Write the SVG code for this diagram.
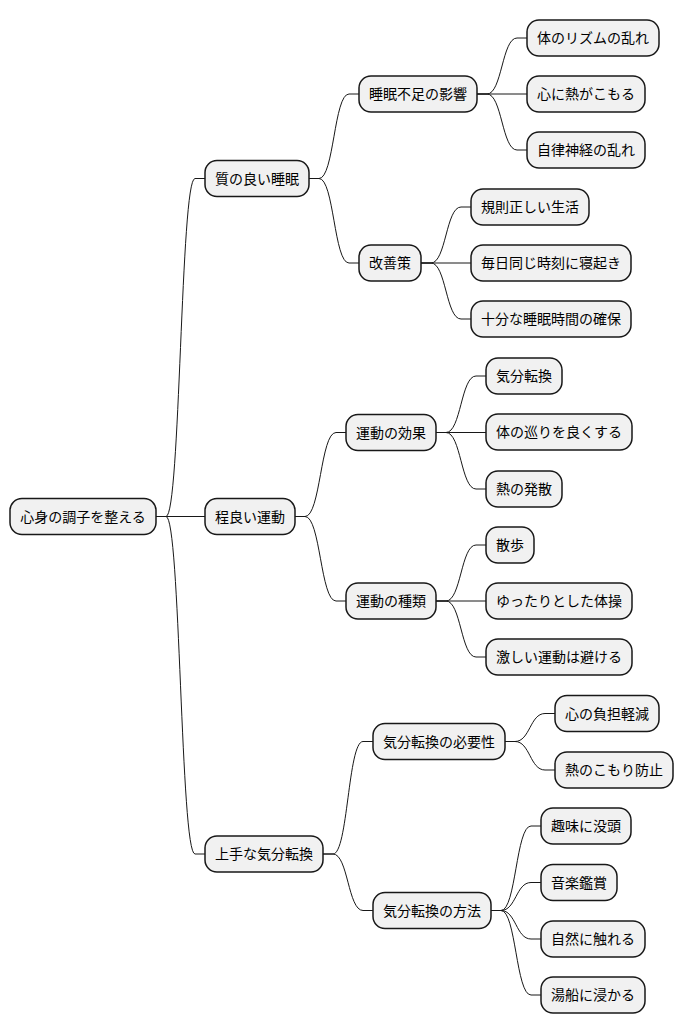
<svg xmlns="http://www.w3.org/2000/svg" width="684" height="1034" viewBox="0 0 684 1034">
<style>
.n rect{fill:#F1F1F1;stroke:#181818;stroke-width:1.5}
.n text{font-family:"Noto Sans CJK JP","Noto Sans",sans-serif;font-size:14px;fill:#000;text-anchor:middle}
.c path{fill:none;stroke:#181818;stroke-width:1}
</style>
<rect width="684" height="1034" fill="#FFFFFF"/>
<g class="c" id="connectors">
<path d="M156,516.5 H166 C180.5,516.5 180.5,178.5 195,178.5 H205"/>
<path d="M156,516.5 H205"/>
<path d="M156,516.5 H166 C180.5,516.5 180.5,854 195,854 H205"/>
<path d="M309,178.5 H319 C334,178.5 334,94 349,94 H359"/>
<path d="M309,178.5 H319 C334,178.5 334,263 349,263 H359"/>
<path d="M295,516.5 H305 C320.5,516.5 320.5,432.5 336,432.5 H346"/>
<path d="M295,516.5 H305 C320.5,516.5 320.5,601 336,601 H346"/>
<path d="M323,854 H333 C348,854 348,741.5 363,741.5 H373"/>
<path d="M323,854 H333 C348,854 348,910.5 363,910.5 H373"/>
<path d="M477,94 H487 C502,94 502,38 517,38 H527"/>
<path d="M477,94 H527"/>
<path d="M477,94 H487 C502,94 502,150 517,150 H527"/>
<path d="M421,263 H431 C446,263 446,207 461,207 H471"/>
<path d="M421,263 H471"/>
<path d="M421,263 H431 C446,263 446,319 461,319 H471"/>
<path d="M436,432.5 H446 C461,432.5 461,376 476,376 H486"/>
<path d="M436,432.5 H486"/>
<path d="M436,432.5 H446 C461,432.5 461,489 476,489 H486"/>
<path d="M436,601 H446 C461,601 461,545 476,545 H486"/>
<path d="M436,601 H486"/>
<path d="M436,601 H446 C461,601 461,657 476,657 H486"/>
<path d="M505,741.5 H515 C530,741.5 530,713.5 545,713.5 H555"/>
<path d="M505,741.5 H515 C530,741.5 530,770 545,770 H555"/>
<path d="M491,910.5 H501 C516,910.5 516,826 531,826 H541"/>
<path d="M491,910.5 H501 C516,910.5 516,882.5 531,882.5 H541"/>
<path d="M491,910.5 H501 C516,910.5 516,939 531,939 H541"/>
<path d="M491,910.5 H501 C516,910.5 516,995 531,995 H541"/>
</g>
<g class="n" id="root"><rect x="10" y="498.5" width="146" height="36" rx="12"/><text x="83" y="521.5">心身の調子を整える</text></g>
<g class="n" id="n_sleep"><rect x="205" y="160.5" width="104" height="36" rx="12"/><text x="257" y="183.5">質の良い睡眠</text></g>
<g class="n" id="n_exercise"><rect x="205" y="498.5" width="90" height="36" rx="12"/><text x="250" y="521.5">程良い運動</text></g>
<g class="n" id="n_refresh"><rect x="205" y="836" width="118" height="36" rx="12"/><text x="264" y="859">上手な気分転換</text></g>
<g class="n" id="n_lack"><rect x="359" y="76" width="118" height="36" rx="12"/><text x="418" y="99">睡眠不足の影響</text></g>
<g class="n" id="n_improve"><rect x="359" y="245" width="62" height="36" rx="12"/><text x="390" y="268">改善策</text></g>
<g class="n" id="n_effect"><rect x="346" y="414.5" width="90" height="36" rx="12"/><text x="391" y="437.5">運動の効果</text></g>
<g class="n" id="n_kind"><rect x="346" y="583" width="90" height="36" rx="12"/><text x="391" y="606">運動の種類</text></g>
<g class="n" id="n_need"><rect x="373" y="723.5" width="132" height="36" rx="12"/><text x="439" y="746.5">気分転換の必要性</text></g>
<g class="n" id="n_method"><rect x="373" y="892.5" width="118" height="36" rx="12"/><text x="432" y="915.5">気分転換の方法</text></g>
<g class="n" id="l1"><rect x="527" y="20" width="132" height="36" rx="12"/><text x="593" y="43">体のリズムの乱れ</text></g>
<g class="n" id="l2"><rect x="527" y="76" width="118" height="36" rx="12"/><text x="586" y="99">心に熱がこもる</text></g>
<g class="n" id="l3"><rect x="527" y="132" width="118" height="36" rx="12"/><text x="586" y="155">自律神経の乱れ</text></g>
<g class="n" id="l4"><rect x="471" y="189" width="118" height="36" rx="12"/><text x="530" y="212">規則正しい生活</text></g>
<g class="n" id="l5"><rect x="471" y="245" width="160" height="36" rx="12"/><text x="551" y="268">毎日同じ時刻に寝起き</text></g>
<g class="n" id="l6"><rect x="471" y="301" width="160" height="36" rx="12"/><text x="551" y="324">十分な睡眠時間の確保</text></g>
<g class="n" id="l7"><rect x="486" y="358" width="76" height="36" rx="12"/><text x="524" y="381">気分転換</text></g>
<g class="n" id="l8"><rect x="486" y="414" width="146" height="36" rx="12"/><text x="559" y="437">体の巡りを良くする</text></g>
<g class="n" id="l9"><rect x="486" y="471" width="76" height="36" rx="12"/><text x="524" y="494">熱の発散</text></g>
<g class="n" id="l10"><rect x="486" y="527" width="48" height="36" rx="12"/><text x="510" y="550">散歩</text></g>
<g class="n" id="l11"><rect x="486" y="583" width="146" height="36" rx="12"/><text x="559" y="606">ゆったりとした体操</text></g>
<g class="n" id="l12"><rect x="486" y="639" width="146" height="36" rx="12"/><text x="559" y="662">激しい運動は避ける</text></g>
<g class="n" id="l13"><rect x="555" y="695.5" width="104" height="36" rx="12"/><text x="607" y="718.5">心の負担軽減</text></g>
<g class="n" id="l14"><rect x="555" y="752" width="118" height="36" rx="12"/><text x="614" y="775">熱のこもり防止</text></g>
<g class="n" id="l15"><rect x="541" y="808" width="90" height="36" rx="12"/><text x="586" y="831">趣味に没頭</text></g>
<g class="n" id="l16"><rect x="541" y="864.5" width="76" height="36" rx="12"/><text x="579" y="887.5">音楽鑑賞</text></g>
<g class="n" id="l17"><rect x="541" y="921" width="104" height="36" rx="12"/><text x="593" y="944">自然に触れる</text></g>
<g class="n" id="l18"><rect x="541" y="977" width="104" height="36" rx="12"/><text x="593" y="1000">湯船に浸かる</text></g>
</svg>
